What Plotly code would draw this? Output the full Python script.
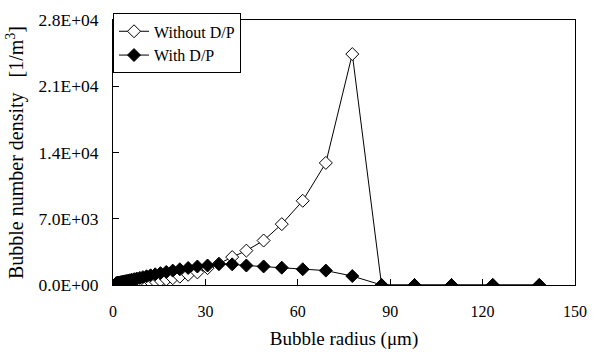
import plotly.graph_objects as go

radius = [1.0, 1.1, 1.2, 1.4, 1.5, 1.7, 1.9, 2.2, 2.4, 2.7, 3.1, 3.4, 3.9, 4.3, 4.9,
          5.5, 6.1, 6.9, 7.7, 8.7, 9.7, 10.9, 12.2, 13.7, 15.4, 17.3, 19.4, 21.7,
          24.4, 27.4, 30.7, 34.4, 38.7, 43.3, 48.9, 54.8, 61.6, 69.1, 77.7, 87.2,
          97.9, 109.9, 123.3, 138.4]

without_dp = [2, 3, 3, 4, 5, 6, 8, 10, 13, 16, 20, 25, 32, 40, 50,
              63, 80, 100, 125, 160, 200, 250, 310, 390, 480, 590, 720, 880,
              1080, 1330, 1780, 2250, 2950, 3630, 4700, 6430, 8900, 12900, 24400, 0,
              0, 0, 0, 0]

with_dp = [170, 180, 190, 205, 215, 230, 245, 265, 285, 305, 330, 355, 390, 420, 465,
           510, 555, 615, 680, 750, 830, 920, 1020, 1130, 1250, 1380, 1520, 1660,
           1800, 1950, 2060, 2200, 2180, 2060, 1960, 1830, 1660, 1524, 945, 0,
           0, 0, 0, 0]

y_ticks = [0, 7000, 14000, 21000, 28000]
y_tick_labels = ["0.0E+00", "7.0E+03", "1.4E+04", "2.1E+04", "2.8E+04"]
x_ticks = [0, 30, 60, 90, 120, 150]
x_tick_labels = ["0", "30", "60", "90", "120", "150"]
y_range = [0, 28000]

FONT = "Liberation Serif"

fig = go.Figure()
fig.add_trace(go.Scatter(
    x=radius, y=without_dp, name="Without D/P", mode="lines+markers",
    line=dict(color="black", width=1),
    marker=dict(symbol="diamond", size=10, color="white", line=dict(color="black", width=1)),
))
fig.add_trace(go.Scatter(
    x=radius, y=with_dp, name="With D/P", mode="lines+markers", yaxis="y2",
    line=dict(color="black", width=1),
    marker=dict(symbol="diamond", size=10, color="black", line=dict(color="black", width=1)),
))

fig.update_layout(
    width=597, height=358,
    margin=dict(l=113, r=11, t=10, b=73),
    paper_bgcolor="white", plot_bgcolor="white",
    font=dict(family=FONT, size=16, color="black"),
    showlegend=True,
    legend=dict(x=0, y=1.025, xanchor="left", yanchor="top",
                bgcolor="white", bordercolor="black", borderwidth=1,
                font=dict(family=FONT, size=16), itemwidth=30,
                tracegroupgap=0),
    xaxis=dict(
        range=[0, 150.001], tickvals=x_ticks, ticktext=x_tick_labels,
        ticks="inside", ticklen=6, ticklabeloverflow="allow",
        tickcolor="black", showline=True, linecolor="black", linewidth=1,
        mirror=True, showgrid=False, zeroline=False,
        tickfont=dict(family=FONT, size=16), ticklabelstandoff=12,
        title=dict(text="Bubble radius (μm)", font=dict(family=FONT, size=19), standoff=12),
    ),
    yaxis=dict(
        range=y_range, tickvals=y_ticks, ticktext=y_tick_labels, ticks="outside",
        ticklen=10, tickcolor="rgba(0,0,0,0)", showline=True, linecolor="black", linewidth=1,
        mirror=True, showgrid=False, zeroline=False,
        tickfont=dict(family=FONT, size=17.5),
        title=dict(text="Bubble number density\u00a0\u00a0\u00a0[1/m<sup>3</sup>]",
                   font=dict(family=FONT, size=20), standoff=9),
    ),
    yaxis2=dict(
        range=y_range, tickvals=y_ticks, overlaying="y", side="left",
        ticks="inside", ticklen=6, tickcolor="black", showticklabels=False,
        showline=False, showgrid=False, zeroline=False,
    ),
)

fig.write_html("out.html")
